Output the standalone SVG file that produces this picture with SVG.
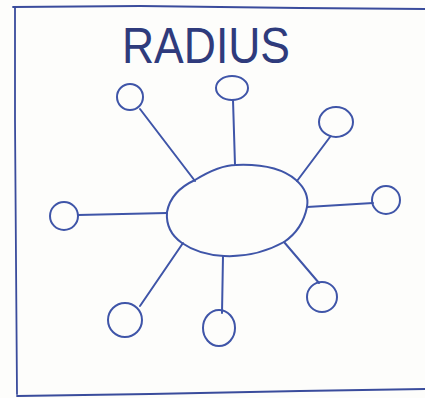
<svg xmlns="http://www.w3.org/2000/svg" width="425" height="398" viewBox="0 0 425 398">
<style>
.ink{fill:none;stroke:#3f55a8;stroke-width:2;stroke-linecap:round;stroke-linejoin:round}
.frame{fill:none;stroke:#3a4c9c;stroke-width:1.8;stroke-linecap:round}
.title{font-family:"Liberation Sans",Arial,sans-serif;font-size:50px;fill:#2f3b7c}
</style>
<rect width="425" height="398" fill="#fdfdfb"/>
<g id="frame">
<path class="frame" d="M13 7 L140 6 L300 8 L425 9"/>
<path class="frame" d="M15 7 L15 120 L16 260 L17 394"/>
<path class="frame" d="M17 396 L150 394 L300 391 L425 389"/>
</g>
<text class="title" x="122" y="63" textLength="168" lengthAdjust="spacingAndGlyphs">RADIUS</text>
<g id="connectors">
<path class="ink" d="M140 109 L195 181"/>
<path class="ink" d="M233 100 L235 165"/>
<path class="ink" d="M330 137 L297 181"/>
<path class="ink" d="M307 207 L373 203"/>
<path class="ink" d="M78 215 L167 213"/>
<path class="ink" d="M183 243 L140 306"/>
<path class="ink" d="M223 256 L222 313"/>
<path class="ink" d="M284 242 L319 283"/>
</g>
<g id="hub"><path class="ink" d="M167 212 C170 196 182 186 195 180 C208 172 222 165 236 165 C260 164 282 168 296 180 C305 188 309 196 307 207 C304 222 296 234 284 242 C266 252 245 257 224 256 C205 255 192 250 182 243 C172 236 166 225 167 212 Z"/></g>
<g id="n1"><ellipse class="ink" cx="130" cy="97" rx="13" ry="13"/></g>
<g id="n2"><ellipse class="ink" cx="232" cy="88" rx="16" ry="12"/></g>
<g id="n3"><ellipse class="ink" cx="336" cy="122" rx="17" ry="15"/></g>
<g id="n4"><ellipse class="ink" cx="386" cy="200" rx="14" ry="14"/></g>
<g id="n5"><ellipse class="ink" cx="64" cy="216" rx="14" ry="14"/></g>
<g id="n6"><ellipse class="ink" cx="125" cy="320" rx="17" ry="17"/></g>
<g id="n7"><ellipse class="ink" cx="219" cy="328" rx="16" ry="18"/></g>
<g id="n8"><ellipse class="ink" cx="322" cy="297" rx="15" ry="15"/></g>
</svg>
